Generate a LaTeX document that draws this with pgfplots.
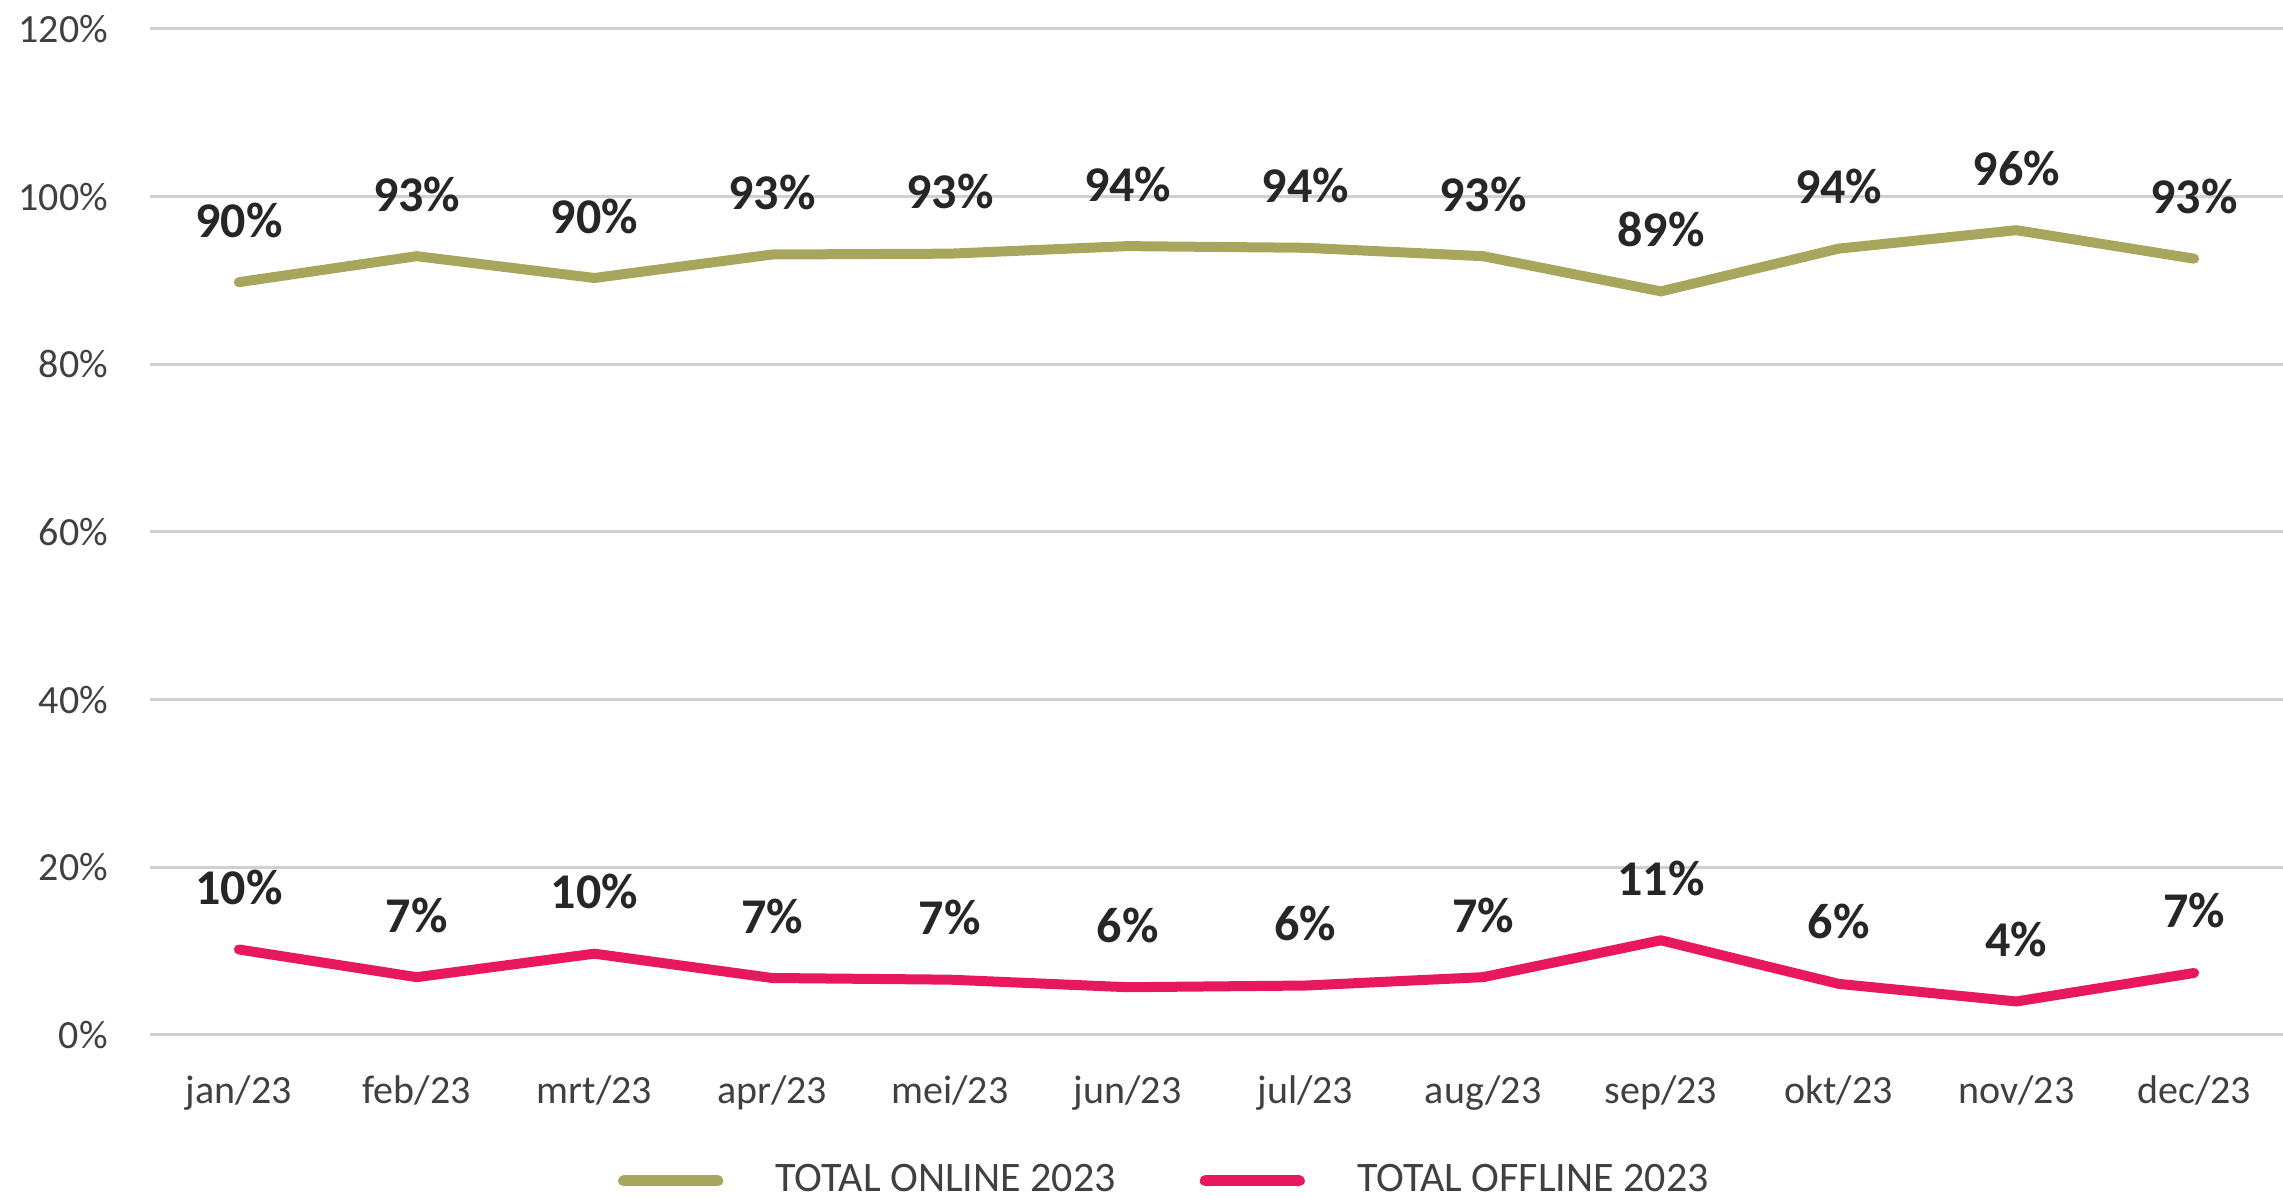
\documentclass[border=0pt]{standalone}
\usepackage{pgfplots}
\pgfplotsset{compat=1.18}
\usepackage{fontspec}
\setmainfont{Carlito}
\definecolor{online}{HTML}{A8A65C}
\definecolor{offline}{HTML}{E8185F}
\definecolor{gridc}{HTML}{D0D0D0}
\definecolor{txt}{HTML}{404040}
\definecolor{lbl}{HTML}{262626}
\begin{document}
\begin{tikzpicture}
\useasboundingbox (-37.5pt,-41pt) rectangle (533.25pt,258.75pt);
\begin{axis}[
  at={(0,0)}, anchor=south west, scale only axis,
  width=533.25pt, height=251.5pt,
  xmin=-0.5, xmax=11.5, ymin=0, ymax=120,
  clip=false,
  axis line style={draw=none},
  major tick length=0pt,
  ymajorgrids, grid style={gridc, line width=0.75pt},
  xtick={0,...,11},
  xticklabels={jan/23,feb/23,mrt/23,apr/23,mei/23,jun/23,jul/23,aug/23,sep/23,okt/23,nov/23,dec/23},
  ytick={0,20,...,120},
  /pgf/number format/assume math mode=true,
  yticklabel={\pgfmathprintnumber{\tick}\%},
  tick label style={font=\fontsize{10}{12}\selectfont, text=txt},
  yticklabel style={xshift=-7pt},
  xticklabel style={yshift=-6.7pt},
  nodes near coords={\pgfmathprintnumber[fixed,precision=0]{\pgfplotspointmeta}\%},
  nodes near coords style={anchor=center, yshift=15.5pt, font=\fontsize{12.5}{14}\selectfont\bfseries, text=lbl},
  legend columns=2,
  legend style={draw=none, fill=none, at={(0.477,-0.145)}, anchor=center,
    font=\fontsize{10.5}{12}\selectfont, text=txt,
    /tikz/every even column/.append style={column sep=19pt}},
  legend image code/.code={\draw[line width=2.8pt, line cap=round] (0pt,0pt) -- (23.5pt,0pt); \path[draw=none] (0pt,0pt) -- (36pt,0pt);},
]
\addplot[online, line width=2.5pt, line join=round, line cap=round] coordinates {
(0,89.8) (1,92.9) (2,90.3) (3,93.1) (4,93.2) (5,94.1) (6,93.9) (7,92.9) (8,88.7) (9,93.8) (10,96.0) (11,92.6)};
\addlegendentry{TOTAL ONLINE 2023}
\addplot[offline, line width=2.5pt, line join=round, line cap=round] coordinates {
(0,10.2) (1,6.9) (2,9.7) (3,6.8) (4,6.6) (5,5.7) (6,5.9) (7,6.9) (8,11.3) (9,6.1) (10,4.0) (11,7.4)};
\addlegendentry{TOTAL OFFLINE 2023}
\end{axis}
\end{tikzpicture}
\end{document}
